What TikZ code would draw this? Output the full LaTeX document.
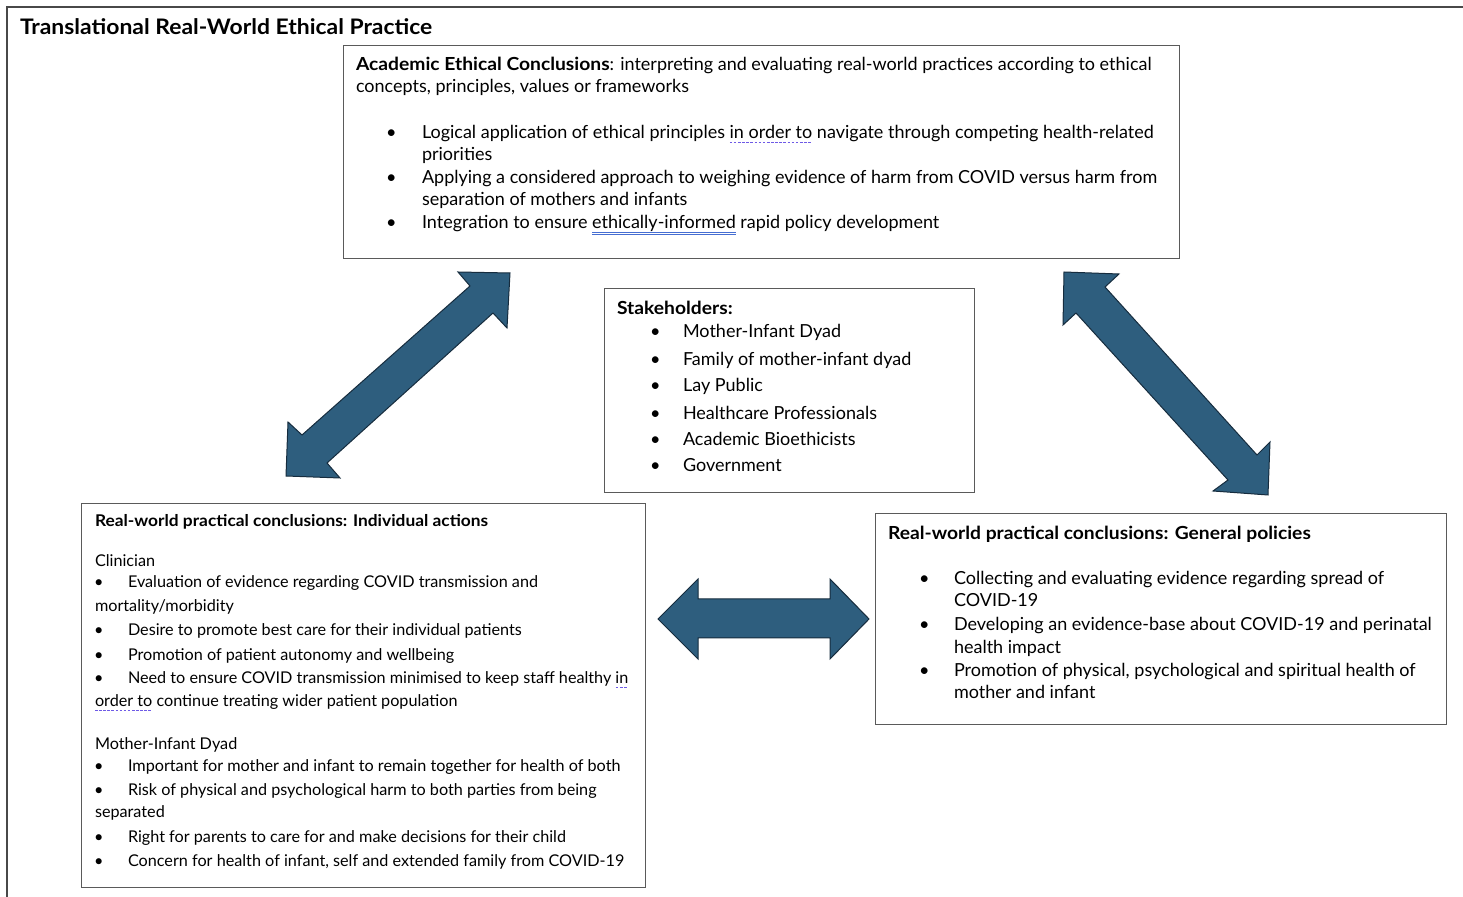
\documentclass[tikz,border=0pt]{standalone}
\usepackage{fontspec}
\setmainfont{Lato}[BoldFeatures={FakeStretch=1.07}]
\definecolor{arrowfill}{RGB}{46,94,126}
\definecolor{arrowline}{RGB}{22,44,62}
\definecolor{boxline}{RGB}{90,90,90}
\definecolor{gramline}{RGB}{110,90,230}
\definecolor{spellline}{RGB}{70,110,210}
\newsavebox{\ulbox}
\newcommand{\gram}[1]{\sbox{\ulbox}{#1}\rlap{\color{gramline}\raisebox{-2.2pt}{\hbox to \wd\ulbox{\xleaders\hbox to 2pt{\vrule height 0.6pt width 1.3pt\hfil}\hfil}}}\usebox{\ulbox}}
\newcommand{\spell}[1]{\sbox{\ulbox}{#1}\rlap{\color{spellline}\raisebox{-1.8pt}{\rule{\wd\ulbox}{0.45pt}}}\rlap{\color{spellline}\raisebox{-2.9pt}{\rule{\wd\ulbox}{0.45pt}}}\usebox{\ulbox}}
\tikzset{
  frame/.style={draw=boxline!80!black, line width=0.8pt},
  box/.style={draw=boxline, line width=0.55pt, anchor=north west, inner sep=0pt},
  tl/.style={anchor=base west, inner sep=0pt, outer sep=0pt},
  topf/.style={font=\fontsize{9}{11}\selectfont},
  leftf/.style={font=\fontsize{8.1}{9.5}\selectfont},
  rightf/.style={font=\fontsize{9}{11}\selectfont},
  stakef/.style={font=\fontsize{9}{11}\selectfont},
  bigarrow/.style={fill=arrowfill, draw=arrowline, line width=0.5pt, line join=miter}
}
\begin{document}
\begin{tikzpicture}[x=0.5pt,y=-0.5pt]
\useasboundingbox (0,0) rectangle (1463,897);
\draw[frame] (7,897) -- (7,7) -- (1463,7);
\node[tl, font=\fontsize{10.7}{12}\selectfont\bfseries] (title) at (20,35) {Translational Real-World Ethical Practice};

% boxes
\node[box, minimum width=418pt, minimum height=106.5pt] (acad) at (343,45) {};
\node[box, minimum width=185pt, minimum height=102pt] (stake) at (604,288) {};
\node[box, minimum width=282pt, minimum height=192pt] (indiv) at (81,503) {};
\node[box, minimum width=285.5pt, minimum height=105.5pt] (policy) at (875,513) {};

% top box text
\begin{scope}[every node/.append style={tl, topf}]
\node (a1) at (356,71) {\textbf{Academic Ethical Conclusions}: interpreting and evaluating real-world practices according to ethical};
\node (a2) at (356,93) {concepts, principles, values or frameworks};
\node (ab1) at (386,139) {\textbullet};
\node (ab2) at (386,184) {\textbullet};
\node (ab3) at (386,229) {\textbullet};
\node (a3) at (422,139) {Logical application of ethical principles \gram{in order to} navigate through competing health-related};
\node (a4) at (422,161) {priorities};
\node (a5) at (422,184) {Applying a considered approach to weighing evidence of harm from COVID versus harm from};
\node (a6) at (422,206) {separation of mothers and infants};
\node (a7) at (422,229) {Integration to ensure \spell{ethically-informed} rapid policy development};
\end{scope}

% stakeholders
\begin{scope}[every node/.append style={tl, stakef}]
\node (s0) at (617,315) {\textbf{Stakeholders:}};
\node (sb1) at (650,338) {\textbullet};
\node (sb2) at (650,366) {\textbullet};
\node (sb3) at (650,392) {\textbullet};
\node (sb4) at (650,420) {\textbullet};
\node (sb5) at (650,446) {\textbullet};
\node (sb6) at (650,472) {\textbullet};
\node (s1) at (683,338) {Mother-Infant Dyad};
\node (s2) at (683,366) {Family of mother-infant dyad};
\node (s3) at (683,392) {Lay Public};
\node (s4) at (683,420) {Healthcare Professionals};
\node (s5) at (683,446) {Academic Bioethicists};
\node (s6) at (683,472) {Government};
\end{scope}

% left box
\begin{scope}[every node/.append style={tl, leftf}]
\node (l0) at (95,527) {\textbf{Real-world practical conclusions: Individual actions}};
\node (l1) at (95,567) {Clinician};
\node (lb1) at (94,588) {\textbullet};
\node (l2) at (128,588) {Evaluation of evidence regarding COVID transmission and};
\node (l3) at (95,612) {mortality/morbidity};
\node (lb2) at (94,636) {\textbullet};
\node (l4) at (128,636) {Desire to promote best care for their individual patients};
\node (lb3) at (94,661) {\textbullet};
\node (l5) at (128,661) {Promotion of patient autonomy and wellbeing};
\node (lb4) at (94,684) {\textbullet};
\node (l6) at (128,684) {Need to ensure COVID transmission minimised to keep staff healthy \gram{in}};
\node (l7) at (95,707) {\gram{order to} continue treating wider patient population};
\node (l8) at (95,750) {Mother-Infant Dyad};
\node (lb5) at (94,772) {\textbullet};
\node (l9) at (128,772) {Important for mother and infant to remain together for health of both};
\node (lb6) at (94,796) {\textbullet};
\node (l10) at (128,796) {Risk of physical and psychological harm to both parties from being};
\node (l11) at (95,818) {separated};
\node (lb7) at (94,842) {\textbullet};
\node (l12) at (128,842) {Right for parents to care for and make decisions for their child};
\node (lb8) at (94,867) {\textbullet};
\node (l13) at (128,867) {Concern for health of infant, self and extended family from COVID-19};
\end{scope}

% right box
\begin{scope}[every node/.append style={tl, rightf}]
\node (r0) at (888,540) {\textbf{Real-world practical conclusions: General policies}};
\node (rb1) at (919,585) {\textbullet};
\node (rb2) at (919,631) {\textbullet};
\node (rb3) at (919,677) {\textbullet};
\node (r1) at (954,585) {Collecting and evaluating evidence regarding spread of};
\node (r2) at (954,607) {COVID-19};
\node (r3) at (954,631) {Developing an evidence-base about COVID-19 and perinatal};
\node (r4) at (954,654) {health impact};
\node (r5) at (954,677) {Promotion of physical, psychological and spiritual health of};
\node (r6) at (954,699) {mother and infant};
\end{scope}

% block arrows
\filldraw[bigarrow] (510,273) -- (458,272) -- (470,286) -- (302,435) -- (288,422) -- (286,476) -- (340,478) -- (327,463) -- (493,313) -- (507,328) -- cycle;
\filldraw[bigarrow] (1064,272) -- (1119,274) -- (1105,287) -- (1257,455) -- (1270,442) -- (1268,495) -- (1213,491) -- (1228,480) -- (1076,313) -- (1063,325) -- cycle;
\filldraw[bigarrow] (658,619) -- (698,579) -- (698,599) -- (830,599) -- (830,579) -- (869,619) -- (830,659) -- (830,638) -- (698,638) -- (698,659) -- cycle;
\end{tikzpicture}
\end{document}
